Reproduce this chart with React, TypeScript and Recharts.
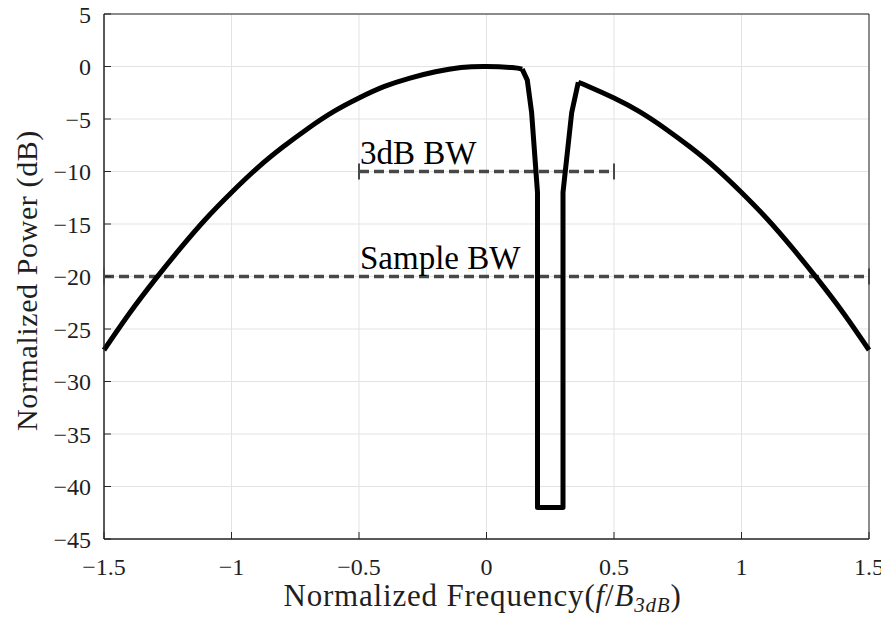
import {
  CartesianGrid,
  ComposedChart,
  Label,
  Line,
  ReferenceArea,
  ReferenceDot,
  XAxis,
  YAxis,
} from 'recharts'

// main response curve (dB vs normalized freq)
// left lobe, notch, right lobe
const leftFreq = [
  -1.5, -1.4, -1.3, -1.2, -1.1, -1.0, -0.9, -0.8, -0.7, -0.6, -0.5, -0.4, -0.3, -0.2, -0.1, 0, 0.1,
  0.14,
]
const leftPower = [
  -27, -23.5, -20.3, -17.3, -14.5, -12, -9.7, -7.7, -5.9, -4.3, -3, -1.9, -1.1, -0.5, -0.1, 0, -0.1,
  -0.25,
]
const notchFreq = [0.14, 0.16, 0.177, 0.2, 0.2, 0.3, 0.3, 0.304, 0.334, 0.36]
const notchPower = [-0.25, -1.3, -4.4, -12, -42, -42, -12, -11.1, -4.4, -1.5]
const rightFreq = [0.36, 0.4, 0.5, 0.6, 0.7, 0.8, 0.9, 1.0, 1.1, 1.2, 1.3, 1.4, 1.5]
const rightPower = [-1.5, -1.9, -3, -4.3, -5.9, -7.7, -9.7, -12, -14.5, -17.3, -20.3, -23.5, -27]

// bandwidth markers
const bw3Freq = [-0.5, 0.5]
const bw3Level = -10
const sampleFreq = [-1.5, 1.5]
const sampleLevel = -20

const xTicks = [-1.5, -1, -0.5, 0, 0.5, 1, 1.5]
const yTicks = [5, 0, -5, -10, -15, -20, -25, -30, -35, -40, -45]

const toPts = (fs: number[], ps: number[]) => fs.map((f, i) => ({ f, p: ps[i] }))
const leftLobe = toPts(leftFreq, leftPower)
const notch = toPts(notchFreq, notchPower)
const rightLobe = toPts(rightFreq, rightPower)
const bw3 = bw3Freq.map((f) => ({ f, p: bw3Level }))
const sample = sampleFreq.map((f) => ({ f, p: sampleLevel }))

const serif = 'Liberation Serif, DejaVu Serif, serif'
const axisColor = '#262626'
const textColor = '#1f1f1f'
const dashColor = '#484848'

const fmt = (v: number) => String(v).replace('-', '\u2212')

function Cap(props: any) {
  const { cx, cy, index } = props
  return (
    <line
      key={`cap-${index}`}
      x1={cx}
      x2={cx}
      y1={cy - 8}
      y2={cy + 8}
      stroke={dashColor}
      strokeWidth={2}
    />
  )
}

function BwLabel({ viewBox, text }: any) {
  if (!viewBox) return null
  return (
    <text
      x={viewBox.x + 1}
      y={viewBox.y - 8}
      fontFamily={serif}
      fontSize={33}
      fill="#000"
    >
      {text}
    </text>
  )
}

function XTitle({ viewBox }: any) {
  const cx = viewBox.x + viewBox.width / 2 - 4
  return (
    <text
      x={cx}
      y={viewBox.y + 67}
      textAnchor="middle"
      fontFamily={serif}
      fontSize={31}
      letterSpacing={0.8}
      fill={textColor}
    >
      Normalized Frequency(
      <tspan fontStyle="italic">f</tspan>/<tspan fontStyle="italic">B</tspan>
      <tspan fontStyle="italic" fontSize={21} dy={6}>
        3dB
      </tspan>
      <tspan dy={-6}>)</tspan>
    </text>
  )
}

function YTitle({ viewBox }: any) {
  const x = viewBox.x + 26
  const y = viewBox.y + viewBox.height / 2 + 4
  return (
    <text
      x={x}
      y={y}
      transform={`rotate(-90, ${x}, ${y})`}
      textAnchor="middle"
      dominantBaseline="central"
      fontFamily={serif}
      fontSize={30}
      letterSpacing={0.6}
      fill={textColor}
    >
      Normalized Power (dB)
    </text>
  )
}

const lobeProps = {
  dataKey: 'p',
  stroke: '#000',
  strokeWidth: 5,
  strokeLinejoin: 'round' as const,
  dot: false,
  activeDot: false,
  isAnimationActive: false,
}

export default function App() {
  const tickStyle = { fontSize: 24, fill: textColor, fontFamily: serif }
  return (
    <div style={{ margin: -8, width: 889, height: 627, background: '#fff', fontFamily: serif }}>
      <ComposedChart
        width={889}
        height={627}
        margin={{ top: 14, right: 20, left: 0, bottom: 0 }}
        style={{ overflow: 'visible' }}
      >
        <CartesianGrid stroke="#e3e3e3" strokeWidth={1} />
        <XAxis
          dataKey="f"
          type="number"
          domain={[-1.5, 1.5]}
          ticks={xTicks}
          tickFormatter={fmt}
          allowDuplicatedCategory={false}
          height={88}
          stroke={axisColor}
          tickSize={-7}
          tickMargin={26}
          tick={tickStyle}
          interval={0}
        >
          <Label content={<XTitle />} />
        </XAxis>
        <XAxis
          xAxisId="top"
          orientation="top"
          type="number"
          domain={[-1.5, 1.5]}
          ticks={xTicks}
          tickFormatter={() => ''}
          height={0}
          stroke={axisColor}
          tickSize={-7}
        />
        <YAxis
          type="number"
          domain={[-45, 5]}
          ticks={yTicks}
          tickFormatter={fmt}
          width={104}
          stroke={axisColor}
          tickSize={-7}
          tickMargin={20}
          tick={tickStyle}
          interval={0}
        >
          <Label content={<YTitle />} />
        </YAxis>
        <YAxis
          yAxisId="right"
          orientation="right"
          type="number"
          domain={[-45, 5]}
          ticks={yTicks}
          tickFormatter={() => ''}
          width={0}
          stroke={axisColor}
          tickSize={-7}
        />
        <Line
          data={sample}
          dataKey="p"
          stroke={dashColor}
          strokeWidth={3.5}
          strokeDasharray="10 5"
          dot={<Cap />}
          activeDot={false}
          isAnimationActive={false}
        />
        <Line
          data={bw3}
          dataKey="p"
          stroke={dashColor}
          strokeWidth={3.5}
          strokeDasharray="10 5"
          dot={<Cap />}
          activeDot={false}
          isAnimationActive={false}
        />
        <Line data={leftLobe} type="natural" {...lobeProps} />
        <Line data={notch} type="linear" {...lobeProps} />
        <Line data={rightLobe} type="natural" {...lobeProps} />
        <ReferenceDot
          x={bw3Freq[0]}
          y={bw3Level}
          r={0}
          fill="none"
          stroke="none"
          label={<BwLabel text="3dB BW" />}
        />
        <ReferenceDot
          x={bw3Freq[0]}
          y={sampleLevel}
          r={0}
          fill="none"
          stroke="none"
          label={<BwLabel text="Sample BW" />}
        />
        <ReferenceArea
          x1={-1.5}
          x2={1.5}
          y1={-45}
          y2={5}
          fill="none"
          stroke={axisColor}
          strokeWidth={1}
        />
      </ComposedChart>
    </div>
  )
}
